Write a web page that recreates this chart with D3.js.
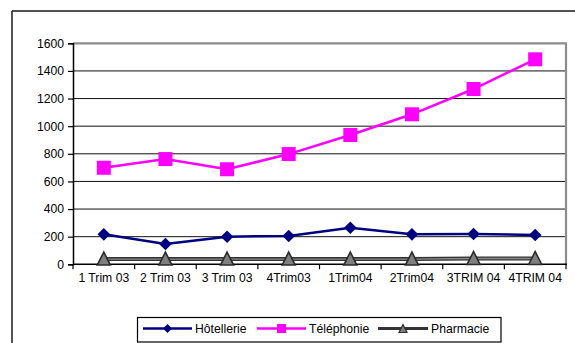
<!DOCTYPE html>
<html>
<head>
<meta charset="utf-8">
<script src="https://cdn.jsdelivr.net/npm/d3@7"></script>
<style>
  html, body { margin: 0; padding: 0; background: #fff; }
  svg { display: block; font-family: Arial, "Liberation Sans", sans-serif; }
</style>
</head>
<body>
<svg id="chart" width="575" height="343"></svg>
<script>
// Quarterly series
const categories = ["1 Trim 03", "2 Trim 03", "3 Trim 03", "4Trim03", "1Trim04", "2Trim04", "3TRIM 04", "4TRIM 04"];
const hotellerie = [217, 147, 200, 205, 265, 217, 219, 212];
const telephonie = [699, 762, 688, 798, 936, 1086, 1269, 1484];
const pharmacie  = [38, 38, 38, 38, 38, 38, 42, 42];
const yTicks = [0, 200, 400, 600, 800, 1000, 1200, 1400, 1600];
const seriesNames = ["Hôtellerie", "Téléphonie", "Pharmacie"];

const svg = d3.select("#chart");
const FONT = "12.2px";

// Outer chart frame (continues past the right and bottom edges)
svg.append("line").attr("x1", 12).attr("y1", 11).attr("x2", 575).attr("y2", 11)
  .attr("stroke", "#1a1a1a").attr("stroke-width", 1.5);
svg.append("line").attr("x1", 12).attr("y1", 11).attr("x2", 12).attr("y2", 343)
  .attr("stroke", "#1a1a1a").attr("stroke-width", 1.5);

const plot = { left: 73, right: 566, top: 43.3, bottom: 264.3 };

const x = d3.scaleBand().domain(categories).range([plot.left, plot.right]);
const y = d3.scaleLinear().domain([0, 1600]).range([plot.bottom, plot.top]);
const cx = d => x(d) + x.bandwidth() / 2;

// Gridlines
svg.append("g").selectAll("line")
  .data(yTicks.filter(t => t > 0 && t < 1600))
  .join("line")
  .attr("x1", plot.left).attr("x2", plot.right)
  .attr("y1", d => y(d)).attr("y2", d => y(d))
  .attr("stroke", "#111").attr("stroke-width", 1);

// Plot-area border (grey, top and right)
svg.append("path")
  .attr("d", `M${plot.left},${y(1600)}H${plot.right}V${plot.bottom}`)
  .attr("fill", "none").attr("stroke", "#8c8c8c").attr("stroke-width", 2.2);

// Y axis
const yAxis = svg.append("g")
  .attr("transform", `translate(${plot.left},0)`)
  .call(d3.axisLeft(y).tickValues(yTicks).tickSize(5).tickPadding(4).tickFormat(d3.format("d")));
yAxis.select(".domain").attr("stroke", "#000").attr("stroke-width", 1.5);
yAxis.selectAll(".tick line").attr("stroke", "#000").attr("stroke-width", 1.2);
yAxis.selectAll("text").attr("font-size", FONT).attr("fill", "#000")
  .attr("font-family", "Arial, 'Liberation Sans', sans-serif");

// X axis: ticks at category boundaries, labels centred in the bands
const xg = svg.append("g");
xg.append("line").attr("x1", plot.left).attr("x2", plot.right + 1)
  .attr("y1", plot.bottom).attr("y2", plot.bottom)
  .attr("stroke", "#000").attr("stroke-width", 1.5);
const bounds = categories.map(c => x(c)).concat([plot.right]);
xg.selectAll(".xt").data(bounds).join("line").attr("class", "xt")
  .attr("x1", d => d).attr("x2", d => d)
  .attr("y1", plot.bottom).attr("y2", plot.bottom + 5)
  .attr("stroke", "#000").attr("stroke-width", 1.2);
xg.selectAll("text").data(categories).join("text")
  .attr("x", d => cx(d)).attr("y", 281.5)
  .attr("text-anchor", "middle").attr("font-size", FONT).attr("fill", "#000")
  .text(d => d);

// Series lines
const line = d3.line().x((d, i) => cx(categories[i])).y(d => y(d));

svg.append("path").datum(pharmacie).attr("d", line)
  .attr("fill", "none").attr("stroke", "#333").attr("stroke-width", 4);
svg.append("path").datum(pharmacie).attr("d", line)
  .attr("fill", "none").attr("stroke", "#8a8a8a").attr("stroke-width", 1.3);
svg.append("path").datum(hotellerie).attr("d", line)
  .attr("fill", "none").attr("stroke", "#000080").attr("stroke-width", 2.5);
svg.append("path").datum(telephonie).attr("d", line)
  .attr("fill", "none").attr("stroke", "#ff00ff").attr("stroke-width", 2.5);

// Markers
const diamond = s => `M0,${-s}L${s},0L0,${s}L${-s},0Z`;
const triangle = (w, h) => `M0,${-h / 2}L${w / 2},${h / 2}L${-w / 2},${h / 2}Z`;

svg.append("g").selectAll("path").data(pharmacie).join("path")
  .attr("transform", (d, i) => `translate(${cx(categories[i])},${y(d) - 0.5})`)
  .attr("d", triangle(13, 13))
  .attr("fill", "#7f7f7f").attr("stroke", "#2b2b2b").attr("stroke-width", 1.6);

svg.append("g").selectAll("path").data(hotellerie).join("path")
  .attr("transform", (d, i) => `translate(${cx(categories[i])},${y(d)})`)
  .attr("d", diamond(6.3)).attr("fill", "#000080");

svg.append("g").selectAll("rect").data(telephonie).join("rect")
  .attr("x", (d, i) => cx(categories[i]) - 7).attr("y", d => y(d) - 7)
  .attr("width", 14).attr("height", 14).attr("fill", "#ff00ff");

// Legend
const lg = svg.append("g");
lg.append("rect").attr("x", 137.5).attr("y", 317.5).attr("width", 363.5).attr("height", 24.5)
  .attr("fill", "#fff").attr("stroke", "#000").attr("stroke-width", 1.2);
const ly = 328.5;
const items = [
  { name: seriesNames[0], x0: 143, x1: 192, color: "#000080", w: 2.5 },
  { name: seriesNames[1], x0: 257, x1: 306, color: "#ff00ff", w: 2.5 },
  { name: seriesNames[2], x0: 378, x1: 428, color: "#333", w: 3 }
];
items.forEach((it, k) => {
  lg.append("line").attr("x1", it.x0).attr("x2", it.x1).attr("y1", ly).attr("y2", ly)
    .attr("stroke", it.color).attr("stroke-width", it.w);
  const mx = (it.x0 + it.x1) / 2;
  if (k === 0) {
    lg.append("path").attr("transform", `translate(${mx},${ly})`).attr("d", diamond(4.5)).attr("fill", "#000080");
  } else if (k === 1) {
    lg.append("rect").attr("x", mx - 4.5).attr("y", ly - 4.5).attr("width", 9).attr("height", 9).attr("fill", "#ff00ff");
  } else {
    lg.append("path").attr("transform", `translate(${mx},${ly})`).attr("d", triangle(8, 8))
      .attr("fill", "#7f7f7f").attr("stroke", "#2b2b2b").attr("stroke-width", 1.2);
  }
  lg.append("text").attr("x", it.x1 + 3).attr("y", ly + 4.5)
    .attr("font-size", FONT).attr("fill", "#000").text(it.name);
});
</script>
</body>
</html>
